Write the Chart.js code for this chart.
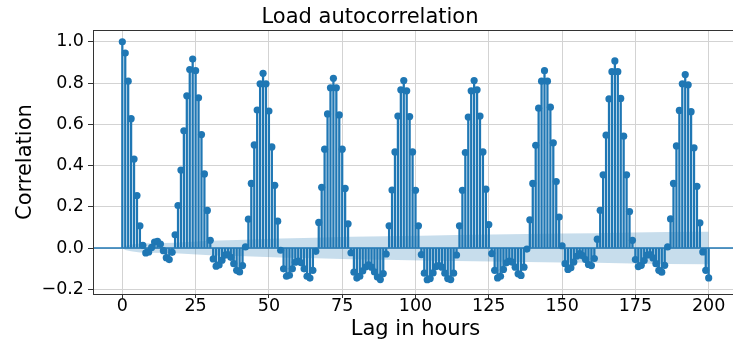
<!DOCTYPE html>
<html>

<head>
    <title>Load autocorrelation</title>
    <script src="https://cdn.jsdelivr.net/npm/chart.js@4.4.2/dist/chart.umd.min.js"></script>
    <style>
        html, body {
            margin: 0;
            overflow: hidden;
            background: #fff;
        }
        #chart-container {
            width: 742px;
            height: 347px;
        }
    </style>
</head>

<body>
    <div id="chart-container">
        <canvas id="acfChart"></canvas>
    </div>
    <script>
        // autocorrelation per lag (0..200 hours)
        const acf = [
            1.0, 0.945, 0.809, 0.627, 0.431, 0.254, 0.108, 0.013, -0.024, -0.019,
            0.003, 0.029, 0.032, 0.019, -0.013, -0.047, -0.056, -0.021, 0.064, 0.206,
            0.378, 0.568, 0.738, 0.865, 0.916, 0.86, 0.728, 0.55, 0.359, 0.182,
            0.037, -0.053, -0.088, -0.082, -0.059, -0.035, -0.032, -0.045, -0.076, -0.108,
            -0.116, -0.085, 0.005, 0.14, 0.313, 0.5, 0.669, 0.796, 0.847, 0.796,
            0.664, 0.49, 0.304, 0.13, -0.011, -0.101, -0.137, -0.132, -0.101, -0.069,
            -0.064, -0.072, -0.101, -0.137, -0.146, -0.108, -0.016, 0.124, 0.294, 0.479,
            0.65, 0.777, 0.823, 0.777, 0.645, 0.479, 0.289, 0.117, -0.023, -0.117,
            -0.146, -0.137, -0.111, -0.092, -0.082, -0.093, -0.116, -0.141, -0.153, -0.124,
            -0.029, 0.108, 0.281, 0.466, 0.64, 0.767, 0.812, 0.762, 0.637, 0.466,
            0.28, 0.108, -0.032, -0.122, -0.154, -0.148, -0.121, -0.09, -0.085, -0.093,
            -0.122, -0.148, -0.153, -0.122, -0.034, 0.108, 0.28, 0.463, 0.635, 0.762,
            0.812, 0.767, 0.64, 0.466, 0.285, 0.114, -0.027, -0.108, -0.145, -0.137,
            -0.104, -0.072, -0.064, -0.068, -0.093, -0.125, -0.133, -0.093, -0.005, 0.137,
            0.313, 0.498, 0.678, 0.809, 0.86, 0.809, 0.683, 0.51, 0.322, 0.15,
            0.011, -0.076, -0.104, -0.096, -0.068, -0.04, -0.027, -0.037, -0.056, -0.08,
            -0.085, -0.051, 0.043, 0.183, 0.355, 0.547, 0.723, 0.855, 0.907, 0.855,
            0.725, 0.542, 0.355, 0.177, 0.037, -0.056, -0.09, -0.084, -0.061, -0.035,
            -0.032, -0.048, -0.076, -0.108, -0.117, -0.084, 0.005, 0.141, 0.313, 0.495,
            0.667, 0.796, 0.841, 0.791, 0.661, 0.486, 0.299, 0.122, -0.019, -0.108,
            -0.145
        ];

        // confidence band half width at a few lags
        const bandLags = [0, 1, 3, 6, 18, 30, 42, 54, 66, 78, 90, 102, 114, 126, 138, 150, 162, 174, 186, 200];
        const bandHalf = [0, 0.010, 0.016, 0.022, 0.025, 0.035, 0.040, 0.046, 0.050, 0.054, 0.057, 0.060, 0.063, 0.066, 0.068, 0.070, 0.072, 0.075, 0.077, 0.079];

        const xTicks = [0, 25, 50, 75, 100, 125, 150, 175, 200];
        const yTicks = [-0.2, 0.0, 0.2, 0.4, 0.6, 0.8, 1.0];

        const blue = '#1f77b4';
        const points = acf.map((v, i) => ({ x: i, y: v }));
        const upper = bandLags.map((l, i) => ({ x: l, y: bandHalf[i] }));
        const lower = bandLags.map((l, i) => ({ x: l, y: -bandHalf[i] }));

        // box round the plot area
        const frame = {
            id: 'frame',
            afterDraw(chart) {
                const { ctx, chartArea: a } = chart;
                ctx.save();
                ctx.strokeStyle = '#333';
                ctx.lineWidth = 1;
                ctx.strokeRect(Math.round(a.left) + 0.5, Math.round(a.top) + 0.5,
                    Math.round(a.right - a.left), Math.round(a.bottom - a.top));
                ctx.restore();
            }
        };

        const font = 'DejaVu Sans';
        const fmt = v => v.toFixed(1).replace('-', '\u2212');

        new Chart(document.getElementById('acfChart'), {
            type: 'bar',
            data: {
                datasets: [
                    {
                        type: 'line', data: upper, borderWidth: 0, pointRadius: 0,
                        fill: false, order: 0
                    },
                    {
                        type: 'line', data: lower, borderWidth: 0, pointRadius: 0,
                        fill: '-1', backgroundColor: 'rgba(31,119,180,0.25)', order: 0
                    },
                    {
                        type: 'line', data: points, showLine: false, pointRadius: 3.6,
                        pointBackgroundColor: blue, pointBorderWidth: 0, order: 1
                    },
                    {
                        type: 'line', data: [{ x: -10, y: 0 }, { x: 210, y: 0 }],
                        borderColor: blue, borderWidth: 1.5, pointRadius: 0, order: 2
                    },
                    {
                        type: 'bar', data: points, backgroundColor: blue,
                        barThickness: 1.6, order: 3
                    }
                ]
            },
            options: {
                responsive: true,
                maintainAspectRatio: false,
                animation: false,
                layout: { padding: { left: 0, right: 2, top: 0, bottom: 0 } },
                scales: {
                    x: {
                        type: 'linear',
                        min: -10,
                        max: 210,
                        offset: false,
                        afterBuildTicks: s => { s.ticks = xTicks.map(v => ({ value: v })); },
                        afterFit: s => { s.height = 53; },
                        grid: { offset: false, color: '#d3d3d3', tickColor: '#333', tickLength: 4 },
                        border: { display: false },
                        ticks: { color: '#000', padding: -2, font: { family: font, size: 17.5 }, maxRotation: 0 },
                        title: {
                            display: true, text: 'Lag in hours', color: '#000',
                            font: { family: font, size: 21 }, padding: { top: 0, bottom: 5 }
                        }
                    },
                    y: {
                        min: -0.223,
                        max: 1.056,
                        afterBuildTicks: s => { s.ticks = yTicks.map(v => ({ value: v })); },
                        afterFit: s => { s.width = 93; },
                        grid: { color: '#d3d3d3', tickColor: '#333', tickLength: 5 },
                        border: { display: false },
                        ticks: {
                            color: '#000', padding: 4, font: { family: font, size: 17.5 },
                            callback: v => fmt(v)
                        },
                        title: {
                            display: true, text: 'Correlation', color: '#000',
                            font: { family: font, size: 21 }, padding: { top: 13, bottom: 0 }
                        }
                    }
                },
                plugins: {
                    legend: { display: false },
                    tooltip: { enabled: false },
                    title: {
                        display: true, text: 'Load autocorrelation', color: '#000',
                        font: { family: font, size: 21, weight: 'normal' },
                        padding: { top: 5, bottom: 0 }
                    }
                }
            },
            plugins: [frame]
        });
    </script>
</body>

</html>
